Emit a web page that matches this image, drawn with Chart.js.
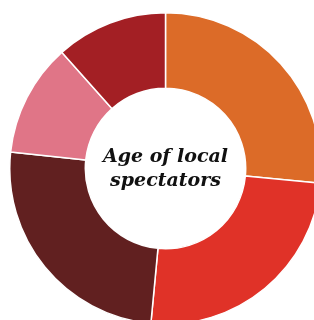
<!DOCTYPE html>
<html>
<head>
<meta charset="utf-8">
<script src="https://cdn.jsdelivr.net/npm/chart.js@4.4.1/dist/chart.umd.min.js"></script>
<style>
  html, body { margin: 0; padding: 0; background: #fff; overflow: hidden; width: 314px; height: 320px; }
  #wrap { position: absolute; left: 9px; top: 12px; width: 313px; height: 313px; }
</style>
</head>
<body>
<div id="wrap"><canvas id="ageChart"></canvas></div>
<script>
// Age groups of local spectators (shares, %)
var ageGroups = ['Under 25', '25-34', '35-54', '55-64', '65+'];
var shares = [26.5, 25, 25.2, 11.7, 11.6];
var sliceColors = ['#DC6B28', '#E03228', '#612020', '#E07587', '#A31F24'];

var centerLines = ['Age of local', 'spectators'];

var centerText = {
    id: 'centerText',
    afterDraw: function (chart) {
        var arc = chart.getDatasetMeta(0).data[0];
        if (!arc) return;
        var ctx = chart.ctx;
        ctx.save();
        ctx.font = 'italic bold 19px "DejaVu Serif", Georgia, serif';
        ctx.fillStyle = '#111';
        ctx.textAlign = 'center';
        ctx.textBaseline = 'middle';
        ctx.fillText(centerLines[0], arc.x, arc.y - 11);
        ctx.fillText(centerLines[1], arc.x, arc.y + 13);
        ctx.restore();
    }
};

var ctx = document.getElementById('ageChart').getContext('2d');
var ageChart = new Chart(ctx, {
    type: 'doughnut',
    data: {
        labels: ageGroups,
        datasets: [{
            data: shares,
            backgroundColor: sliceColors,
            borderColor: '#ffffff',
            borderWidth: 1.5,
            hoverOffset: 0,
        }],
    },
    options: {
        responsive: true,
        maintainAspectRatio: false,
        animation: false,
        cutout: '51.5%',
        layout: { padding: 0 },
        plugins: {
            legend: { display: false },
            tooltip: { enabled: false },
        },
    },
    plugins: [centerText],
});
</script>
</body>
</html>
